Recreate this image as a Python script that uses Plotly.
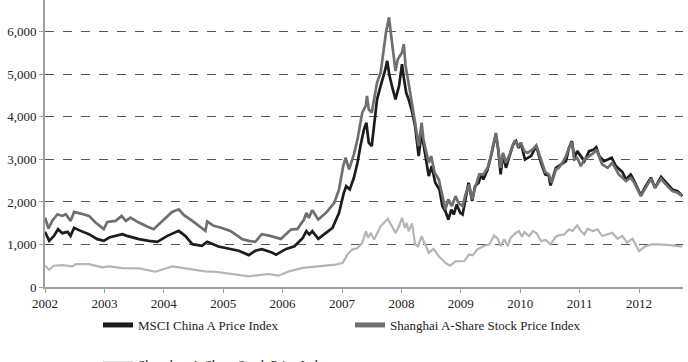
import plotly.graph_objects as go

# ---- data (decimal years, index levels) ----
msci_x = [2002.00, 2002.07, 2002.15, 2002.22, 2002.29, 2002.38, 2002.43, 2002.49, 2002.60, 2002.74,
          2002.88, 2002.99, 2003.08, 2003.22, 2003.30, 2003.38, 2003.58, 2003.75, 2003.89, 2004.06,
          2004.25, 2004.36, 2004.48, 2004.64, 2004.73, 2004.92, 2005.09, 2005.26, 2005.43, 2005.54,
          2005.65, 2005.82, 2005.89, 2006.06, 2006.20, 2006.34, 2006.40, 2006.45, 2006.50, 2006.60,
          2006.73, 2006.84, 2006.95, 2007.03, 2007.07, 2007.13, 2007.20, 2007.26, 2007.31, 2007.37,
          2007.41, 2007.45, 2007.50, 2007.55, 2007.59, 2007.65, 2007.70, 2007.73, 2007.76, 2007.80,
          2007.84, 2007.90, 2007.96, 2008.01, 2008.04, 2008.08, 2008.12, 2008.17, 2008.23, 2008.29,
          2008.34, 2008.39, 2008.46, 2008.51, 2008.57, 2008.64, 2008.69, 2008.74, 2008.79, 2008.84,
          2008.88, 2008.93, 2008.99, 2009.03, 2009.08, 2009.13, 2009.19, 2009.24, 2009.30, 2009.34,
          2009.38, 2009.45, 2009.50, 2009.59, 2009.63, 2009.67, 2009.71, 2009.76, 2009.81, 2009.88,
          2009.93, 2009.97, 2010.01, 2010.08, 2010.18, 2010.27, 2010.35, 2010.42, 2010.48, 2010.51,
          2010.60, 2010.68, 2010.77, 2010.82, 2010.87, 2010.91, 2010.96, 2011.02, 2011.08, 2011.16,
          2011.24, 2011.28, 2011.33, 2011.41, 2011.54, 2011.61, 2011.72, 2011.78, 2011.86, 2011.92,
          2012.03, 2012.11, 2012.20, 2012.27, 2012.37, 2012.45, 2012.56, 2012.65, 2012.73]
msci_y = [1297, 1086, 1203, 1359, 1266, 1297, 1203, 1391, 1320, 1242,
          1125, 1086, 1164, 1203, 1242, 1203, 1125, 1086, 1063, 1203,
          1320, 1203, 1008, 969, 1063, 953, 906, 852, 750, 852,
          891, 813, 762, 896, 958, 1155, 1312, 1233, 1312, 1131,
          1273, 1390, 1744, 2215, 2372, 2294, 2569, 2922, 3315, 3708,
          3865, 3394, 3315, 3865, 4415, 4729, 4965, 5122, 5318, 4965,
          4729, 4415, 4729, 5240, 4925, 4572, 4415, 4179, 3786, 3079,
          3629, 3236, 2608, 2844, 2451, 2294, 1901, 1783, 1587, 1822,
          1705, 1940, 1744, 1707, 2059, 2451, 2020, 2373, 2451, 2647,
          2529, 2764, 3038, 3587, 3234, 2647, 3117, 2803, 3038, 3352,
          3430, 3273, 3391, 2999, 3078, 3312, 2921, 2647, 2623, 2388,
          2803, 2882, 2960, 3273, 3430, 3038, 3195, 3078, 2960, 3195,
          3234, 3289, 3078, 2960, 3038, 2843, 2702, 2529, 2647, 2490,
          2154, 2373, 2569, 2334, 2592, 2467, 2295, 2255, 2138]

sha_x = [2002.00, 2002.06, 2002.12, 2002.21, 2002.29, 2002.35, 2002.43, 2002.49, 2002.60, 2002.74,
         2002.85, 2002.99, 2003.05, 2003.19, 2003.29, 2003.36, 2003.44, 2003.58, 2003.72, 2003.83,
         2003.89, 2004.06, 2004.14, 2004.25, 2004.34, 2004.48, 2004.59, 2004.70, 2004.73, 2004.84,
         2004.95, 2005.12, 2005.20, 2005.32, 2005.43, 2005.54, 2005.65, 2005.79, 2005.97, 2006.14,
         2006.25, 2006.36, 2006.40, 2006.44, 2006.50, 2006.60, 2006.73, 2006.87, 2006.95, 2007.02,
         2007.06, 2007.12, 2007.20, 2007.26, 2007.34, 2007.40, 2007.42, 2007.45, 2007.50, 2007.54,
         2007.59, 2007.65, 2007.68, 2007.70, 2007.74, 2007.79, 2007.84, 2007.90, 2007.94, 2008.01,
         2008.04, 2008.07, 2008.11, 2008.15, 2008.19, 2008.23, 2008.29, 2008.34, 2008.37, 2008.46,
         2008.50, 2008.56, 2008.63, 2008.68, 2008.74, 2008.79, 2008.85, 2008.91, 2008.96, 2009.03,
         2009.08, 2009.14, 2009.19, 2009.24, 2009.31, 2009.38, 2009.45, 2009.50, 2009.59, 2009.63,
         2009.67, 2009.71, 2009.76, 2009.81, 2009.87, 2009.91, 2009.97, 2010.01, 2010.07, 2010.12,
         2010.21, 2010.27, 2010.35, 2010.42, 2010.48, 2010.53, 2010.60, 2010.65, 2010.71, 2010.77,
         2010.82, 2010.87, 2010.91, 2010.96, 2011.02, 2011.08, 2011.16, 2011.24, 2011.28, 2011.33,
         2011.38, 2011.47, 2011.55, 2011.66, 2011.78, 2011.86, 2011.92, 2012.03, 2012.11, 2012.20,
         2012.27, 2012.37, 2012.45, 2012.56, 2012.65, 2012.73]
sha_y = [1633, 1375, 1555, 1711, 1672, 1711, 1555, 1766, 1727, 1672,
         1516, 1360, 1531, 1555, 1672, 1555, 1633, 1516, 1422, 1360,
         1438, 1672, 1766, 1828, 1688, 1555, 1438, 1320, 1539, 1438,
         1398, 1320, 1242, 1125, 1086, 1063, 1242, 1203, 1131, 1351,
         1367, 1587, 1744, 1626, 1807, 1587, 1744, 1980, 2294, 2844,
         3040, 2765, 3119, 3472, 4100, 4258, 4493, 4179, 4100, 4415,
         4808, 5043, 5357, 5593, 5986, 6339, 5750, 5082, 5357, 5514,
         5711, 5200, 4886, 4572, 4258, 3865, 3315, 3865, 3472, 2922,
         3079, 2687, 2529, 2176, 1822, 2058, 1901, 2137, 1980, 1903,
         2177, 2412, 2059, 2334, 2647, 2647, 2803, 3038, 3626, 3234,
         2803, 3156, 2921, 3078, 3312, 3453, 3312, 3391, 3195, 3156,
         3234, 3328, 2999, 2702, 2647, 2451, 2764, 2803, 2921, 3078,
         3273, 3406, 2999, 3038, 2843, 2999, 3078, 3156, 3234, 3038,
         2882, 2803, 2921, 2647, 2490, 2569, 2451, 2138, 2334, 2545,
         2334, 2545, 2412, 2255, 2216, 2138]

szc_x = [2002.00, 2002.07, 2002.15, 2002.29, 2002.46, 2002.52, 2002.74, 2002.96, 2003.08, 2003.30,
         2003.58, 2003.86, 2004.14, 2004.42, 2004.70, 2004.87, 2005.04, 2005.26, 2005.43, 2005.60,
         2005.76, 2005.93, 2006.11, 2006.34, 2006.61, 2006.89, 2007.01, 2007.09, 2007.17, 2007.26,
         2007.34, 2007.40, 2007.44, 2007.48, 2007.54, 2007.59, 2007.65, 2007.73, 2007.77, 2007.84,
         2007.90, 2007.96, 2008.01, 2008.06, 2008.09, 2008.12, 2008.18, 2008.23, 2008.28, 2008.34,
         2008.39, 2008.46, 2008.54, 2008.63, 2008.74, 2008.82, 2008.91, 2008.97, 2009.06, 2009.14,
         2009.20, 2009.28, 2009.39, 2009.48, 2009.56, 2009.62, 2009.67, 2009.73, 2009.79, 2009.84,
         2009.93, 2009.98, 2010.03, 2010.07, 2010.15, 2010.21, 2010.27, 2010.35, 2010.43, 2010.51,
         2010.60, 2010.65, 2010.74, 2010.82, 2010.88, 2010.96, 2011.02, 2011.08, 2011.13, 2011.22,
         2011.30, 2011.38, 2011.47, 2011.55, 2011.64, 2011.72, 2011.80, 2011.89, 2012.00, 2012.11,
         2012.22, 2012.34, 2012.56, 2012.73]
szc_y = [500, 406, 500, 516, 484, 539, 539, 461, 484, 445,
         438, 359, 484, 422, 367, 359, 328, 281, 250, 281,
         305, 266, 369, 448, 487, 526, 566, 762, 880, 919,
         1037, 1312, 1155, 1273, 1115, 1273, 1430, 1548, 1603, 1430,
         1273, 1430, 1626, 1390, 1508, 1312, 1493, 998, 958, 1194,
         1037, 801, 896, 723, 566, 503, 605, 611, 611, 767,
         744, 885, 963, 1002, 1214, 1135, 963, 1120, 963, 1159,
         1276, 1316, 1182, 1292, 1198, 1316, 1276, 1081, 1104, 1002,
         1182, 1214, 1237, 1355, 1316, 1449, 1316, 1237, 1370, 1316,
         1355, 1198, 1237, 1276, 1135, 1198, 1042, 1135, 846, 963,
         1002, 1002, 979, 948]

years = list(range(2002, 2013))
year_labels = [str(y) for y in years]
y_ticks = [0, 1000, 2000, 3000, 4000, 5000, 6000]

names = ["MSCI China A Price Index", "Shanghai A-Share Stock Price Index",
         "Shenzhen A-Share Stock Price Index"]
colors = ["#1c1c1c", "#6f6f6f", "#b5b5b5"]
FONT = "Liberation Serif, Times New Roman, serif"

fig = go.Figure()
fig.add_trace(go.Scatter(x=szc_x, y=szc_y, mode="lines", line=dict(color=colors[2], width=2.2),
                         showlegend=False))
fig.add_trace(go.Scatter(x=msci_x, y=msci_y, mode="lines", line=dict(color=colors[0], width=2.7),
                         showlegend=False))
fig.add_trace(go.Scatter(x=sha_x, y=sha_y, mode="lines", line=dict(color=colors[1], width=2.7),
                         showlegend=False))

for i, lg in enumerate(["legend", "legend2", "legend3"]):
    fig.add_trace(go.Scatter(x=[None], y=[None], mode="lines", name=names[i],
                             line=dict(color=colors[i], width=5), legend=lg, showlegend=True))

H_PLOT = 287.0
def ly(py):
    return (H_PLOT - py) / H_PLOT
def lx(px):
    return (px - 45.0) / 638.0

legend_common = dict(font=dict(family=FONT, size=13, color="#222"), bgcolor="rgba(0,0,0,0)",
                     borderwidth=0, yanchor="middle", xanchor="left", orientation="h")

fig.update_layout(
    width=688, height=362,
    margin=dict(l=45, r=5, t=0, b=75, autoexpand=False),
    paper_bgcolor="white", plot_bgcolor="white",
    font=dict(family=FONT, size=13, color="#222"),
    legend=dict(x=lx(98), y=ly(325), **legend_common),
    legend2=dict(x=lx(350), y=ly(325), **legend_common),
    legend3=dict(x=lx(98), y=ly(364), **legend_common),
    xaxis=dict(range=[2002, 2012.74], tickvals=years, ticktext=year_labels,
               showgrid=False, zeroline=False, showline=True, linecolor="#a0a0a0", linewidth=1.6,
               ticks="outside", ticklen=4, tickcolor="#a0a0a0", tickwidth=1,
               tickfont=dict(family=FONT, size=13, color="#222")),
    yaxis=dict(range=[0, 6750], tickvals=y_ticks, tickformat=",d",
               showgrid=True, gridcolor="#555555", griddash="dash", gridwidth=1,
               zeroline=False, showline=True, linecolor="#a0a0a0", linewidth=1.6,
               ticks="outside", ticklen=4, tickcolor="#a0a0a0", tickwidth=1,
               tickfont=dict(family=FONT, size=13, color="#222")),
)

fig.write_html("out.html", config={"displayModeBar": False},
               post_script="document.body.style.margin='0';document.body.style.overflow='hidden';")
